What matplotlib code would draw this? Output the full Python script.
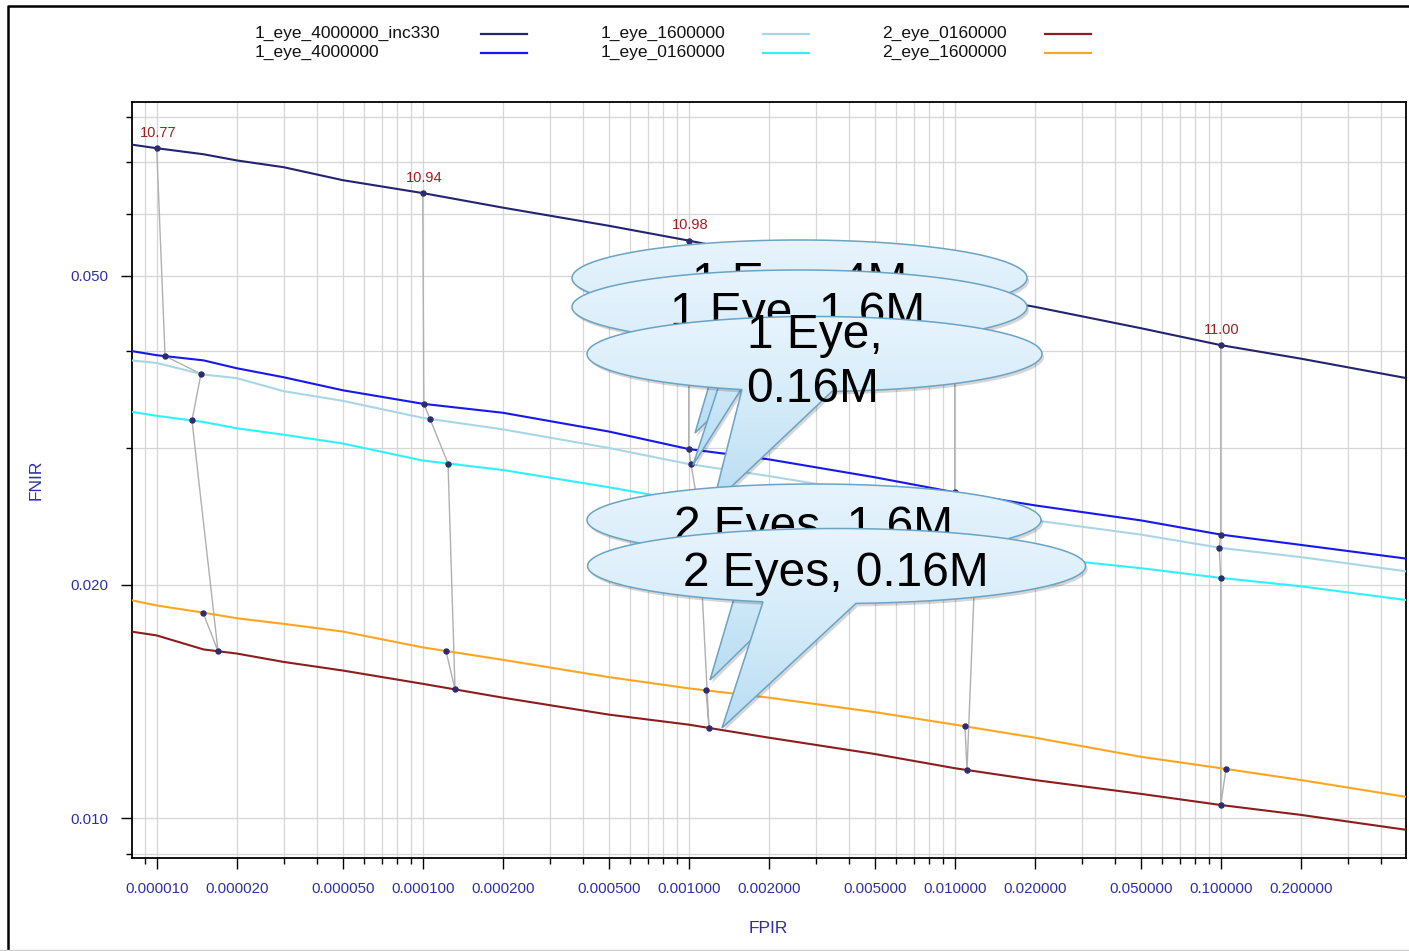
import numpy as np
import matplotlib
matplotlib.use("Agg")
import matplotlib.pyplot as plt
from matplotlib.path import Path
from matplotlib.patches import PathPatch
from matplotlib.lines import Line2D
from matplotlib.ticker import FixedLocator, FuncFormatter, NullFormatter
from matplotlib.colors import LinearSegmentedColormap

plt.rcParams["font.family"] = ["Liberation Sans", "DejaVu Sans"]

# ---------------------------------------------------------------- data
fpir = [8.0e-6, 1e-5, 1.5e-5, 2e-5, 3e-5, 5e-5, 1e-4, 2e-4, 5e-4, 1e-3,
        2e-3, 5e-3, 1e-2, 2e-2, 5e-2, 1e-1, 2e-1, 5e-1]

series_names = ["1_eye_4000000_inc330", "1_eye_4000000", "1_eye_1600000",
                "1_eye_0160000", "2_eye_0160000", "2_eye_1600000"]
series_colors = ["#23236f", "#1717f0", "#a9d6e4", "#2ef2fa", "#8b1d1d", "#ffa51f"]

fnir_1eye_4000000_inc330 = [0.0738, 0.0730, 0.0717, 0.0704, 0.0690, 0.0664, 0.0639, 0.0612, 0.0580,
                            0.0555, 0.0529, 0.0494, 0.0475, 0.0456, 0.0428, 0.0407, 0.0391, 0.0369]
fnir_1eye_4000000 = [0.0400, 0.0395, 0.0389, 0.0380, 0.0370, 0.0356, 0.0342, 0.0333, 0.0315,
                     0.0299, 0.0290, 0.0275, 0.0263, 0.0253, 0.0242, 0.0232, 0.0225, 0.0216]
fnir_1eye_1600000 = [0.0389, 0.0386, 0.0373, 0.0369, 0.0355, 0.0345, 0.0328, 0.0317, 0.0300,
                     0.0286, 0.0276, 0.0262, 0.0251, 0.0242, 0.0232, 0.0223, 0.0217, 0.0208]
fnir_1eye_0160000 = [0.0334, 0.0330, 0.0324, 0.0318, 0.0312, 0.0304, 0.0289, 0.0281, 0.0267,
                     0.0256, 0.0247, 0.0234, 0.0224, 0.0217, 0.0210, 0.0204, 0.0199, 0.0191]
fnir_2eye_0160000 = [0.0174, 0.0172, 0.0165, 0.0163, 0.0159, 0.0155, 0.0149, 0.0143, 0.0136,
                     0.0132, 0.0127, 0.0121, 0.0116, 0.0112, 0.01075, 0.0104, 0.0101, 0.00966]
fnir_2eye_1600000 = [0.0191, 0.0188, 0.0184, 0.0181, 0.0178, 0.0174, 0.0166, 0.0160, 0.0152,
                     0.0147, 0.0143, 0.0137, 0.0132, 0.0127, 0.0120, 0.0116, 0.0112, 0.01065]

series_fnir = [fnir_1eye_4000000_inc330, fnir_1eye_4000000, fnir_1eye_1600000,
               fnir_1eye_0160000, fnir_2eye_0160000, fnir_2eye_1600000]

# FPIR reached by each system (same order as series_names) at a common threshold
threshold_labels = ["10.77", "10.94", "10.98", "10.99", "11.00"]
fpir_at_10_77 = [1.0e-5, 1.075e-5, 1.467e-5, 1.357e-5, 1.70e-5, 1.493e-5]
fpir_at_10_94 = [1.0e-4, 1.01e-4, 1.065e-4, 1.245e-4, 1.323e-4, 1.223e-4]
fpir_at_10_98 = [1.0e-3, 1.0e-3, 1.02e-3, 1.08e-3, 1.192e-3, 1.161e-3]
fpir_at_10_99 = [1.0e-2, 1.0e-2, 1.0e-2, 1.2e-2, 1.112e-2, 1.093e-2]
fpir_at_11_00 = [1.0e-1, 1.0e-1, 0.0987, 1.0e-1, 1.0e-1, 0.1047]
threshold_fpir = [fpir_at_10_77, fpir_at_10_94, fpir_at_10_98, fpir_at_10_99, fpir_at_11_00]

x_major = [1e-5, 2e-5, 5e-5, 1e-4, 2e-4, 5e-4, 1e-3, 2e-3, 5e-3, 1e-2, 2e-2, 5e-2, 1e-1, 2e-1]
y_major = [0.010, 0.020, 0.050]
y_minor = [0.009, 0.03, 0.04, 0.06, 0.07, 0.08]

callout_texts = ["1 Eye, 4M", "1 Eye, 1.6M", "1 Eye,\n0.16M", "2 Eyes, 1.6M", "2 Eyes, 0.16M"]

# ---------------------------------------------------------------- figure
W, H = 1409, 951
fig = plt.figure(figsize=(W / 100, H / 100), dpi=100)
fig.patch.set_facecolor("white")

ax_l, ax_r, ax_t, ax_b = 131.5, 1405.5, 101.7, 857.5
ax = fig.add_axes([ax_l / W, 1 - ax_b / H, (ax_r - ax_l) / W, (ax_b - ax_t) / H])
ax.set_xscale("log")
ax.set_yscale("log")
ax.set_xlim(8.04e-6, 0.495)
ax.set_ylim(0.00890, 0.0838)

lo, hi = ax.get_xlim()
x_minor = [m * 10.0 ** e for e in range(-6, 0) for m in range(1, 10)
           if lo <= m * 10.0 ** e <= hi and not any(np.isclose(m * 10.0 ** e, x_major))]

tick_color = "#2e2ea8"
ax.xaxis.set_major_locator(FixedLocator(x_major))
ax.xaxis.set_minor_locator(FixedLocator(x_minor))
ax.xaxis.set_major_formatter(FuncFormatter(lambda v, p: f"{v:.6f}"))
ax.xaxis.set_minor_formatter(NullFormatter())
ax.yaxis.set_major_locator(FixedLocator(y_major))
ax.yaxis.set_minor_locator(FixedLocator(y_minor))
ax.yaxis.set_major_formatter(FuncFormatter(lambda v, p: f"{v:.3f}"))
ax.yaxis.set_minor_formatter(NullFormatter())

ax.tick_params(which="major", length=8, width=1.0, color="black",
               labelsize=10.8, labelcolor=tick_color)
ax.tick_params(axis="x", which="major", pad=9.5)
ax.tick_params(axis="y", which="major", pad=9.0)
ax.tick_params(which="minor", length=4.5, width=1.0, color="black")
ax.grid(True, which="both", color="#d6d6d6", lw=0.9)
ax.set_axisbelow(True)
for s in ax.spines.values():
    s.set_linewidth(1.3)
    s.set_color("black")

ax.set_xlabel("FPIR", fontsize=12.5, color=tick_color, ha="center", va="center")
ax.set_ylabel("FNIR", fontsize=12.5, color=tick_color, ha="center", va="center")
ax.xaxis.set_label_coords(0.5, -0.0933)
ax.yaxis.set_label_coords(-0.075, 0.4995)

# DET curves
for name, col, fn in zip(series_names, series_colors, series_fnir):
    ax.plot(fpir, fn, color=col, lw=1.5, zorder=3, label=name)


def fnir_on_curve(fn, x):
    return 10 ** np.interp(np.log10(x), np.log10(fpir), np.log10(fn))


# operating points at common thresholds, joined across systems
for lab, fps in zip(threshold_labels, threshold_fpir):
    fns = [fnir_on_curve(fn, x) for fn, x in zip(series_fnir, fps)]
    ax.plot(fps, fns, color="#b0b0b0", lw=1.0, zorder=2)
    ax.plot(fps, fns, ls="none", marker="o", ms=3.6, color="#2d2d6e", zorder=4)
    ax.annotate(lab, (fps[0], fns[0]), xytext=(1, 11), textcoords="offset points",
                ha="center", va="center", fontsize=10.5, color="#9c2020", zorder=4)

# ---------------------------------------------------------------- overlay
ov = fig.add_axes([0, 0, 1, 1], zorder=5)
ov.set_axis_off()
ov.patch.set_alpha(0)

# page border
ov.add_line(Line2D([8, 8, W + 5], [H + 5, 6, 6], color="black", lw=1.8))
ov.add_line(Line2D([0, W], [949.5, 949.5], color="#cfcfcf", lw=1.0))

# legend: label followed by a line sample, three columns of two rows
leg_text_x = [255, 601, 882]
leg_line_x = [481, 763, 1045]
leg_row_y = [33.5, 52.5]
for i, (name, col) in enumerate(zip(series_names, series_colors)):
    c, r = divmod(i, 2)
    ov.text(leg_text_x[c], leg_row_y[r], name, fontsize=12.5, color="#111111",
            ha="left", va="center")
    ov.add_line(Line2D([leg_line_x[c], leg_line_x[c] + 46], [leg_row_y[r]] * 2,
                       color=col, lw=1.6))

# speech-balloon callouts (pixel layout: centre, half-axes, tail base span, tail tip)
balloons = [
    dict(c=(799.5, 278), ab=(227.5, 38), base=(730, 816), tip=(695, 433), lines=[(800, 296.5)]),
    dict(c=(799.5, 307), ab=(227.5, 37), base=(733, 770), tip=(693, 465), lines=[(798, 326)]),
    dict(c=(814.5, 354), ab=(227.5, 37.5), base=(742, 832), tip=(713, 504),
         lines=[(815, 347.5), (813, 402)]),
    dict(c=(814, 520), ab=(227, 36), base=(747, 837), tip=(710, 680), lines=[(814, 540)]),
    dict(c=(836.6, 566), ab=(249, 37.5), base=(763, 856), tip=(722, 728), lines=[(836, 585.5)]),
]

fill_cmap = LinearSegmentedColormap.from_list("balloon", ["#e8f4fd", "#d3ebf9", "#b8dcf3"])
grad = np.linspace(0, 1, 256).reshape(-1, 1)


def balloon_path(cx, cy, a, b, xl, xr, tip, n=300):
    tl = np.arccos(np.clip((xl - cx) / a, -1, 1))
    tr = np.arccos(np.clip((xr - cx) / a, -1, 1))
    th = np.linspace(tl, tr + 2 * np.pi, n)
    verts = np.column_stack([cx + a * np.cos(th), cy + b * np.sin(th)])
    verts = np.vstack([verts, [tip], verts[:1]])
    codes = [Path.MOVETO] + [Path.LINETO] * (len(verts) - 2) + [Path.CLOSEPOLY]
    return Path(verts, codes)


for k, (bl, txt) in enumerate(zip(balloons, callout_texts)):
    z = 10 + 2 * k
    cx, cy = bl["c"]
    a, b = bl["ab"]
    path = balloon_path(cx, cy, a, b, bl["base"][0], bl["base"][1], bl["tip"])
    shadow = Path(path.vertices + np.array([2.0, 3.0]), path.codes)
    ov.add_patch(PathPatch(shadow, facecolor="black", alpha=0.16, lw=0, zorder=z))
    y0 = cy - b
    y1 = max(cy + b, bl["tip"][1])
    im = ov.imshow(grad, cmap=fill_cmap, extent=(cx - a, cx + a, y1, y0), origin="upper",
                   aspect="auto", interpolation="bilinear", zorder=z + 0.2)
    edge = PathPatch(path, facecolor="none", edgecolor="#6aa3c4", lw=1.1, zorder=z + 0.4)
    ov.add_patch(edge)
    im.set_clip_path(edge)
    for ln, (tx, ty) in zip(txt.split("\n"), bl["lines"]):
        ov.text(tx, ty, ln, fontsize=34.5, color="black", ha="center", va="baseline",
                zorder=z + 0.6)

ov.set_xlim(0, W)
ov.set_ylim(H, 0)

fig.savefig("out.png", dpi=100)
